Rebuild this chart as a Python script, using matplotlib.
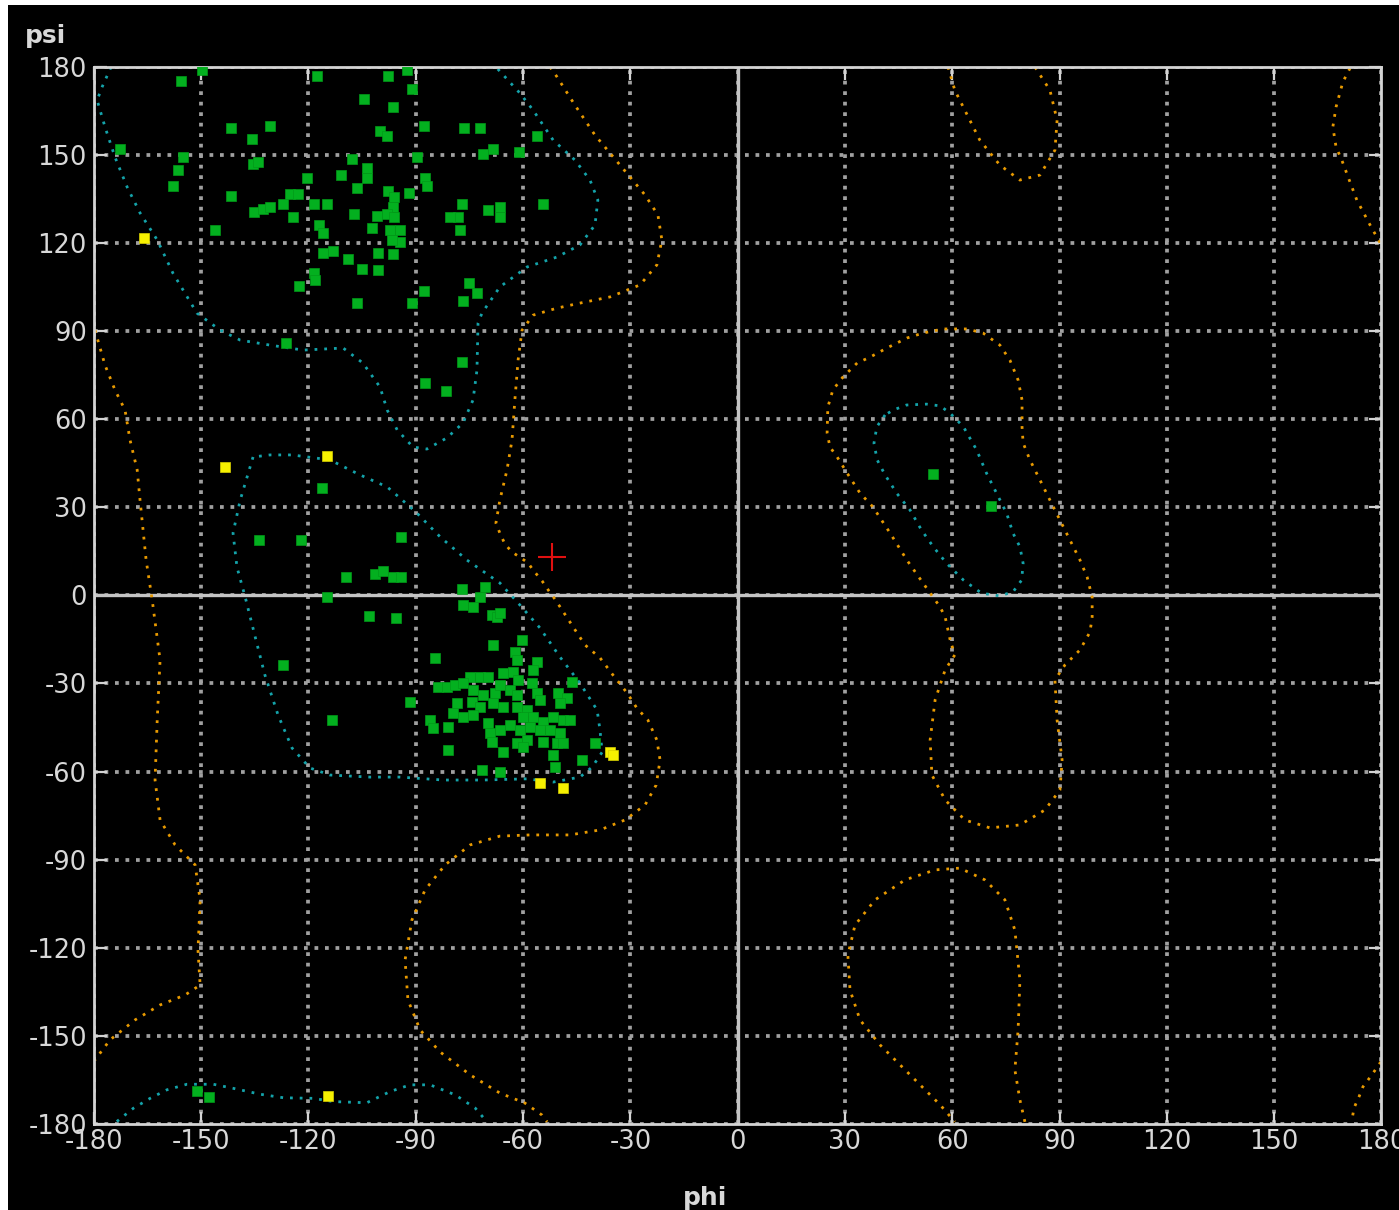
import matplotlib
matplotlib.use('Agg')
import matplotlib.pyplot as plt
from matplotlib.patches import Rectangle

plt.rcParams['axes.unicode_minus'] = False

# residues (phi, psi) in degrees
green_pts = [
    (-149.8, 178.9), (-155.7, 175.2), (-117.6, 176.9), (-97.8, 176.9), (-92.5, 178.9),
    (-91.1, 172.4), (-104.4, 168.9), (-96.3, 166.3), (-172.7, 152.1), (-141.7, 159.1),
    (-130.8, 159.9), (-135.9, 155.5), (-155.0, 149.2), (-135.6, 146.9), (-134.2, 147.6),
    (-156.4, 144.8), (-157.9, 139.5), (-120.5, 142.2), (-141.7, 136.0), (-125.2, 136.6),
    (-122.8, 136.6), (-127.2, 133.2), (-135.2, 130.5), (-132.6, 131.4), (-130.8, 132.3),
    (-124.2, 128.8), (-118.5, 133.2), (-114.9, 133.2), (-117.2, 126.1), (-115.9, 123.3),
    (-146.1, 124.3), (-115.9, 116.4), (-118.5, 109.6), (-118.2, 107.4), (-122.6, 105.4),
    (-100.0, 158.2), (-98.0, 156.4), (-87.6, 159.9), (-76.5, 159.0), (-72.0, 159.0),
    (-56.0, 156.4), (-71.3, 150.3), (-68.5, 151.9), (-61.1, 151.0), (-89.7, 149.2),
    (-107.9, 148.5), (-103.7, 145.5), (-103.7, 142.1), (-111.0, 143.0), (-87.4, 142.0),
    (-86.8, 139.4), (-106.5, 138.7), (-97.7, 137.7), (-96.0, 135.5), (-96.4, 132.3),
    (-92.0, 136.9), (-107.3, 129.8), (-100.8, 129.2), (-98.0, 129.8), (-96.1, 128.9),
    (-102.3, 125.2), (-77.2, 133.2), (-78.1, 128.9), (-77.6, 124.4), (-80.4, 128.9),
    (-69.7, 131.2), (-66.5, 132.3), (-66.5, 128.9), (-54.5, 133.2), (-97.2, 124.4),
    (-94.4, 124.4), (-94.4, 120.4), (-96.7, 121.0), (-96.3, 116.2), (-113.2, 117.3),
    (-108.9, 114.4), (-100.6, 116.4), (-100.6, 110.8), (-105.1, 111.0), (-87.6, 103.7),
    (-75.0, 106.4), (-72.8, 102.8), (-76.7, 100.2), (-106.5, 99.4), (-91.1, 99.4),
    (-126.3, 85.8), (-77.2, 79.5), (-87.5, 72.4), (-81.6, 69.7),
    (-116.1, 36.6), (-133.7, 18.8), (-122.1, 18.8), (-94.1, 19.7), (-109.5, 6.3),
    (-101.4, 7.3), (-99.1, 8.4), (-96.4, 6.1), (-94.1, 6.3), (-114.7, -0.7),
    (-103.0, -7.0), (-95.6, -7.8), (-77.2, 2.0), (-70.6, 2.9), (-72.0, -0.5),
    (-73.9, -3.9), (-76.7, -3.3), (-68.8, -6.7), (-67.4, -7.3), (-66.5, -6.1),
    (-68.5, -16.9), (-60.4, -15.2), (-62.3, -19.2), (-61.8, -22.0), (-84.6, -21.5),
    (-56.2, -22.6), (-57.1, -25.4), (-46.4, -29.4), (-127.1, -23.7), (-113.4, -42.5),
    (-91.6, -36.2),
    (-74.8, -27.7), (-72.0, -27.7), (-69.7, -27.7), (-65.5, -26.6), (-62.7, -26.0),
    (-61.3, -28.8), (-83.7, -31.1), (-81.4, -31.1), (-79.0, -30.5), (-76.7, -30.0),
    (-73.9, -32.2), (-71.1, -33.9), (-67.9, -33.4), (-66.5, -30.5), (-63.7, -32.2),
    (-61.8, -33.9), (-57.6, -30.0), (-56.2, -33.4), (-55.3, -35.6), (-50.2, -33.4),
    (-47.8, -35.1), (-49.7, -36.8), (-78.6, -36.8), (-74.4, -36.2), (-72.0, -37.9),
    (-68.3, -36.8), (-65.5, -37.9), (-61.8, -37.9), (-59.0, -39.1), (-86.0, -42.5),
    (-85.1, -45.3), (-79.5, -40.2), (-76.7, -41.3), (-73.9, -40.8), (-69.7, -43.6),
    (-63.7, -44.2), (-59.9, -41.3), (-57.1, -41.3), (-54.3, -43.0), (-51.6, -41.3),
    (-48.8, -42.5), (-46.9, -42.5), (-80.9, -44.7), (-69.2, -47.0), (-66.5, -45.9),
    (-60.9, -45.9), (-58.1, -44.7), (-55.3, -45.9), (-52.5, -45.9), (-49.7, -47.0),
    (-80.9, -52.7), (-68.8, -49.8), (-61.8, -50.4), (-59.0, -49.3), (-54.3, -49.8),
    (-50.6, -50.4), (-48.8, -50.4), (-39.9, -50.4), (-65.5, -53.3), (-59.9, -51.5),
    (-51.6, -54.4), (-43.6, -56.1), (-71.6, -59.5), (-66.5, -60.1), (-51.1, -58.6),
    (-151.2, -168.8), (-147.7, -170.7), (54.7, 41.2), (70.7, 30.4),
]

yellow_pts = [
    (-166.0, 121.6), (-143.3, 43.8), (-114.7, 47.4), (-35.7, -53.3), (-34.8, -54.4),
    (-55.3, -63.9), (-48.8, -65.6), (-114.6, -170.5),
]

cursor = (-52.0, 13.1)

# favoured regions (cyan)
cyan_beta = [
    (-175.2, 179.9), (-177.7, 173.1), (-179.1, 168.6), (-176.9, 159.5), (-174.1, 149.2),
    (-170.7, 139.0), (-167.1, 130.2), (-162.3, 121.0), (-157.9, 109.7), (-151.2, 96.1),
    (-144.7, 90.3), (-139.1, 86.9), (-130.8, 85.2), (-121.5, 83.5), (-110.3, 84.2),
    (-104.8, 79.1), (-100.0, 70.9), (-98.0, 63.1), (-95.2, 56.3), (-90.8, 50.5),
    (-86.9, 49.8), (-81.3, 53.6), (-76.8, 58.7), (-74.0, 66.5), (-72.9, 76.7),
    (-72.6, 92.7), (-71.5, 96.1), (-66.5, 105.0), (-58.9, 111.8), (-50.5, 115.2),
    (-44.1, 119.3), (-39.9, 126.1), (-39.1, 134.6), (-41.3, 141.4), (-45.5, 148.2),
    (-51.6, 155.0), (-57.2, 165.2), (-60.9, 171.0), (-67.3, 179.5),
]
cyan_alpha = [
    (-135.5, 47.1), (-139.1, 32.4), (-141.1, 21.2), (-140.0, 9.6), (-137.7, -0.6),
    (-134.9, -14.2), (-132.2, -27.1), (-128.5, -40.8), (-124.6, -52.0), (-119.6, -58.8),
    (-114.0, -61.2), (-102.8, -61.9), (-94.4, -61.9), (-82.4, -62.9), (-71.2, -62.9),
    (-58.9, -62.5), (-51.6, -63.6), (-44.1, -61.9), (-40.7, -58.5), (-37.9, -53.4),
    (-38.5, -45.9), (-39.3, -39.1), (-44.1, -29.9), (-49.7, -21.0), (-55.3, -11.1),
    (-60.9, -3.3), (-66.5, 4.2), (-75.7, 12.0), (-83.2, 19.9), (-89.7, 28.0),
    (-94.4, 33.1), (-98.0, 36.9), (-105.6, 41.0), (-114.0, 46.1), (-124.6, 47.8),
    (-130.8, 47.8), (-135.5, 47.1),
]
cyan_lalpha = [
    (41.2, 61.4), (38.9, 57.4), (38.1, 51.8), (39.0, 46.1), (41.2, 41.0),
    (44.5, 34.7), (48.2, 29.0), (51.4, 22.2), (54.7, 16.5), (58.4, 10.9),
    (63.1, 5.2), (68.2, 0.7), (73.3, -0.2), (77.0, 1.2), (79.4, 5.2),
    (79.8, 10.9), (78.9, 16.5), (77.0, 21.1), (75.2, 27.9), (72.4, 34.7),
    (69.6, 41.5), (66.8, 49.5), (63.1, 57.4), (59.4, 62.0), (56.6, 64.5),
    (52.8, 65.1), (47.2, 64.8), (43.5, 63.1), (41.2, 61.4),
]
cyan_bottom = [
    (-173.6, -179.2), (-169.0, -174.7), (-164.3, -171.3), (-159.6, -168.4), (-154.0, -166.5),
    (-146.6, -166.5), (-141.0, -167.9), (-133.5, -169.9), (-127.0, -171.1), (-118.6, -171.3),
    (-113.1, -172.4), (-103.7, -172.8), (-97.2, -169.0), (-91.6, -166.7), (-86.0, -166.7),
    (-79.0, -170.1), (-73.4, -174.6), (-70.1, -179.3),
]

# allowed regions (orange)
orange_main = [
    (-52.5, 179.9), (-50.5, 176.5), (-45.5, 166.9), (-39.9, 156.7), (-32.9, 146.5),
    (-25.9, 136.3), (-22.3, 129.5), (-21.2, 121.0), (-22.6, 112.5), (-27.3, 105.7),
    (-35.7, 101.6), (-44.1, 99.5), (-50.5, 97.8), (-57.2, 95.4), (-60.3, 90.3),
    (-61.4, 80.1), (-62.3, 66.5), (-63.1, 52.9), (-64.5, 42.7), (-66.5, 32.4),
    (-67.6, 24.6), (-66.5, 21.2), (-65.1, 17.5), (-63.1, 14.7), (-60.9, 13.0),
    (-58.6, 11.0), (-57.2, 8.6), (-54.7, 4.9), (-52.8, 1.5), (-51.1, -1.3),
    (-49.1, -5.0), (-46.0, -10.8), (-42.7, -16.9), (-38.5, -21.3), (-34.9, -27.1),
    (-30.9, -33.3), (-28.2, -38.4), (-25.1, -42.5), (-22.6, -49.3), (-21.7, -56.1),
    (-22.8, -64.6), (-25.9, -71.4), (-31.5, -76.5), (-38.5, -79.9), (-46.9, -81.6),
    (-58.1, -81.6), (-66.5, -82.0), (-74.8, -85.0), (-81.8, -91.8), (-87.4, -100.3),
    (-91.1, -110.6), (-93.0, -124.2), (-92.2, -137.8), (-88.8, -148.0), (-83.2, -155.5),
    (-74.8, -163.3), (-66.5, -169.5), (-59.5, -172.9), (-54.7, -177.0), (-53.3, -179.3),
]
orange_left = [
    (-179.7, 90.3), (-176.9, 78.4), (-174.1, 69.9), (-171.3, 63.1), (-169.9, 52.9),
    (-167.9, 42.7), (-167.1, 32.4), (-165.4, 12.0), (-163.7, -1.6), (-161.5, -22.0),
    (-162.3, -42.5), (-162.9, -62.9), (-161.5, -76.5), (-157.3, -85.0), (-151.7, -91.8),
    (-150.3, -103.7), (-150.9, -120.8), (-150.3, -132.7), (-154.5, -136.1), (-161.5, -139.5),
    (-168.5, -144.6), (-175.5, -151.4), (-179.7, -158.2),
]
orange_top = [
    (58.8, 179.9), (60.7, 172.0), (63.5, 165.2), (67.7, 155.0), (73.3, 146.5),
    (78.9, 141.4), (84.5, 143.1), (88.7, 151.6), (89.3, 161.8), (87.3, 172.0),
    (83.1, 179.9),
]
orange_edge_top = [
    (171.2, 179.5), (169.2, 174.8), (167.3, 166.3), (166.4, 159.5), (167.3, 152.6),
    (168.9, 148.2), (171.2, 140.7), (173.1, 134.6), (176.8, 126.1), (179.8, 119.6),
]
orange_edge_bottom = [
    (179.8, -158.9), (179.0, -160.3), (177.3, -163.3), (174.8, -167.4), (173.7, -170.8),
    (172.3, -174.6), (171.7, -179.0),
]
orange_lalpha = [
    (59.4, -15.2), (58.0, -7.4), (56.6, -4.0), (51.8, 4.2), (47.3, 12.0),
    (42.6, 21.2), (37.8, 30.1), (34.2, 34.8), (30.6, 41.6), (27.8, 47.1),
    (25.8, 50.5), (25.0, 55.3), (25.2, 64.1), (26.6, 69.9), (29.4, 74.3),
    (33.4, 79.1), (37.0, 81.1), (41.7, 84.2), (47.3, 87.6), (51.8, 89.3),
    (57.4, 90.7), (64.1, 90.7), (68.6, 89.3), (73.3, 85.2), (76.1, 80.1),
    (78.4, 73.3), (79.5, 66.5), (79.5, 57.3), (79.8, 51.9), (81.7, 46.1),
    (84.5, 39.3), (87.3, 32.4), (90.1, 25.6), (92.9, 18.8), (95.7, 12.0),
    (97.7, 6.2), (99.1, -0.6), (99.1, -7.4), (98.5, -12.5), (95.7, -18.6),
    (91.5, -23.7), (88.7, -28.8), (89.3, -42.5), (90.7, -56.1), (90.1, -66.3),
    (85.9, -73.1), (78.9, -78.2), (70.5, -79.2), (63.5, -76.5), (58.0, -69.7),
    (54.3, -61.2), (53.8, -49.3), (55.2, -35.6), (58.0, -25.4), (60.7, -20.3),
    (59.4, -15.2),
]
orange_bottom_right = [
    (80.3, -179.3), (78.9, -171.8), (77.5, -161.6), (78.4, -148.0), (78.9, -131.0),
    (77.5, -114.0), (74.7, -103.7), (69.1, -96.9), (62.1, -92.9), (55.2, -93.5),
    (46.8, -96.9), (38.4, -103.7), (32.8, -112.3), (30.8, -122.5), (31.4, -134.4),
    (34.2, -144.6), (39.8, -153.1), (45.4, -159.9), (51.0, -166.7), (56.6, -173.5),
    (60.7, -179.3),
]

ticks = list(range(-180, 181, 30))

W, H = 1399, 1210
fig = plt.figure(figsize=(W / 100, H / 100), dpi=100, facecolor='white')
fig.add_artist(Rectangle((8 / W, 0), 1, (H - 5) / H, transform=fig.transFigure,
                         facecolor='black', edgecolor='none', zorder=0))

ax = fig.add_axes([93.9 / W, (H - 1123.9) / H, (1381.5 - 93.9) / W, (1123.9 - 66.7) / H])
ax.set_facecolor('black')
ax.set_xlim(-180, 180)
ax.set_ylim(-180, 180)
ax.set_xticks(ticks)
ax.set_yticks(ticks)
ax.set_axisbelow(True)
ax.grid(True, color='#a0a0a0', linestyle=(0, (1, 1.8)), linewidth=2.7)
ax.axhline(0, color='#c4c4c4', lw=2.4, zorder=1)
ax.axvline(0, color='#c4c4c4', lw=2.4, zorder=1)

for sp in ax.spines.values():
    sp.set_color('#d4d4d4')
    sp.set_linewidth(2)

ax.tick_params(direction='in', length=9, width=1.6, color='#d4d4d4', labelcolor='#d8d8d8',
               labelsize=18.5, top=True, right=True)
ax.tick_params(axis='y', pad=5)
ax.tick_params(axis='x', pad=4)

for line in [cyan_beta, cyan_alpha, cyan_lalpha, cyan_bottom]:
    xs, ys = zip(*line)
    ax.plot(xs, ys, color='#14a3aa', lw=2, linestyle=(0, (1, 2.5)), zorder=2)

for line in [orange_main, orange_left, orange_top, orange_edge_top, orange_edge_bottom,
             orange_lalpha, orange_bottom_right]:
    xs, ys = zip(*line)
    ax.plot(xs, ys, color='#e89a00', lw=2, linestyle=(0, (1, 2.5)), zorder=2)

gx, gy = zip(*green_pts)
ax.plot(gx, gy, 's', color='#03b01f', mec='#029a18', mew=0.5, ms=6.6, zorder=3)
yx, yy = zip(*yellow_pts)
ax.plot(yx, yy, 's', color='#f6f000', mec='#d8d000', mew=0.5, ms=6.6, zorder=3)

ax.plot([cursor[0]], [cursor[1]], '+', color='#e01010', ms=20, mew=1.5, zorder=4)

fig.text(25 / W, 1 - 24 / H, 'psi', ha='left', va='top', fontsize=18,
         fontweight='bold', color='#d8d8d8')
fig.text(705 / W, 1 - 1186 / H, 'phi', ha='center', va='top', fontsize=18,
         fontweight='bold', color='#d8d8d8')

fig.savefig('out.png', dpi=100, facecolor=fig.get_facecolor())
